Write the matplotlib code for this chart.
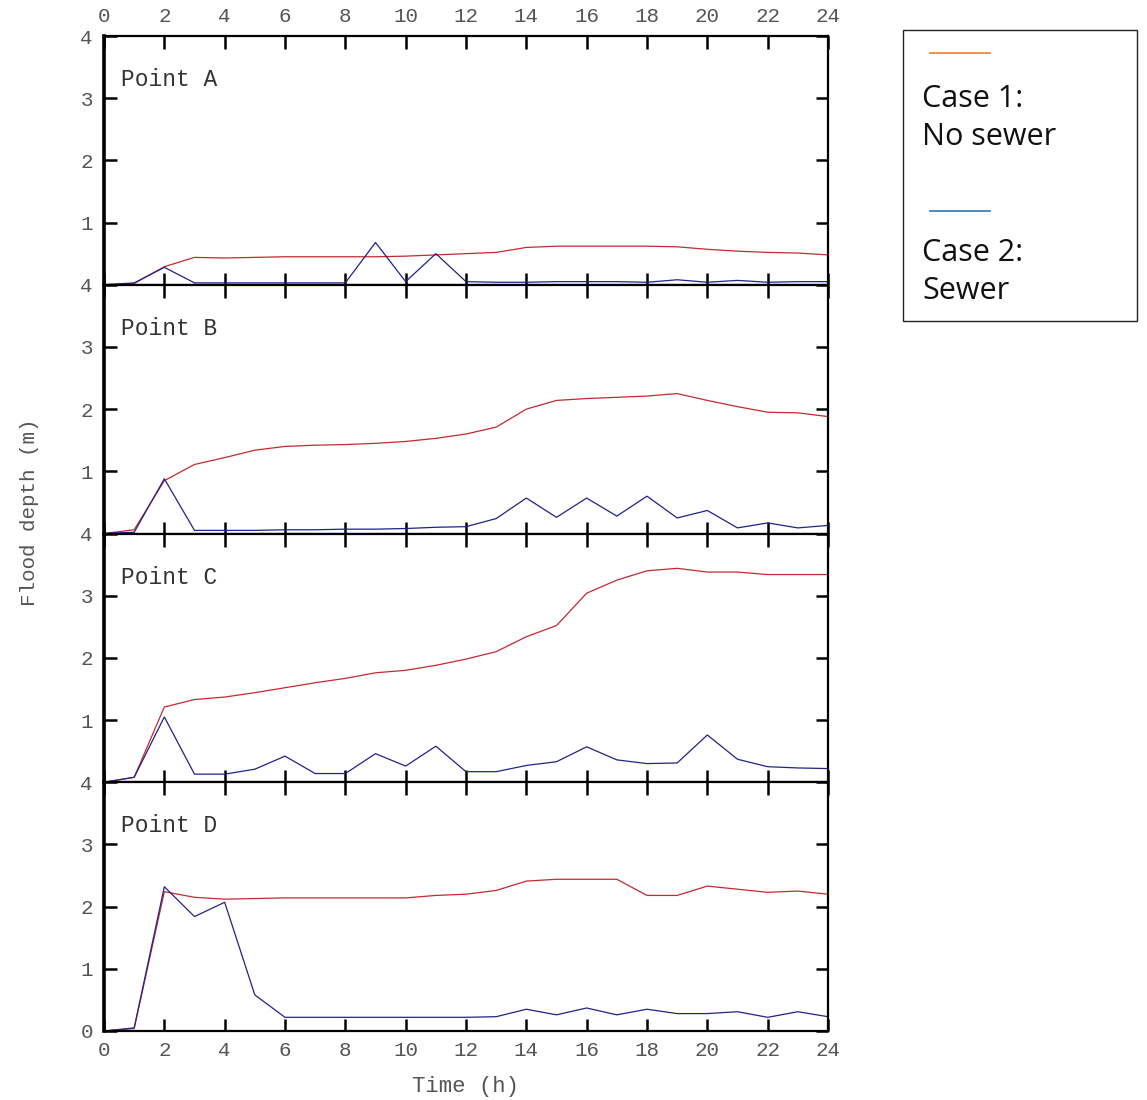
import matplotlib
matplotlib.use("Agg")
import matplotlib.pyplot as plt
from matplotlib.lines import Line2D
from matplotlib.patches import Rectangle

hours = list(range(25))
points = ["Point A", "Point B", "Point C", "Point D"]

case1_A = [0, 0.02, 0.29, 0.44, 0.43, 0.44, 0.45, 0.45, 0.45, 0.45, 0.46, 0.48, 0.50,
           0.52, 0.60, 0.62, 0.62, 0.62, 0.62, 0.61, 0.57, 0.54, 0.52, 0.51, 0.48]
case2_A = [0, 0.03, 0.28, 0.03, 0.03, 0.03, 0.03, 0.03, 0.03, 0.68, 0.05, 0.50, 0.05,
           0.04, 0.04, 0.05, 0.05, 0.05, 0.04, 0.08, 0.04, 0.07, 0.04, 0.05, 0.05]
case1_B = [0, 0.06, 0.85, 1.11, 1.22, 1.34, 1.40, 1.42, 1.43, 1.45, 1.48, 1.53, 1.60,
           1.71, 2.00, 2.14, 2.17, 2.19, 2.21, 2.25, 2.14, 2.04, 1.95, 1.94, 1.88]
case2_B = [0, 0.02, 0.88, 0.05, 0.05, 0.05, 0.06, 0.06, 0.07, 0.07, 0.08, 0.10, 0.11,
           0.24, 0.57, 0.26, 0.57, 0.28, 0.60, 0.25, 0.37, 0.09, 0.17, 0.09, 0.13]
case1_C = [0, 0.08, 1.21, 1.33, 1.37, 1.44, 1.52, 1.60, 1.67, 1.76, 1.80, 1.88, 1.98,
           2.10, 2.34, 2.52, 3.04, 3.25, 3.40, 3.44, 3.38, 3.38, 3.34, 3.34, 3.34]
case2_C = [0, 0.08, 1.05, 0.13, 0.13, 0.21, 0.42, 0.14, 0.14, 0.46, 0.26, 0.58, 0.17,
           0.17, 0.27, 0.33, 0.57, 0.36, 0.30, 0.31, 0.76, 0.37, 0.25, 0.23, 0.22]
case1_D = [0, 0.04, 2.24, 2.15, 2.12, 2.13, 2.14, 2.14, 2.14, 2.14, 2.14, 2.18, 2.20,
           2.26, 2.41, 2.44, 2.44, 2.44, 2.18, 2.18, 2.33, 2.28, 2.23, 2.25, 2.20]
case2_D = [0, 0.05, 2.32, 1.84, 2.07, 0.58, 0.22, 0.22, 0.22, 0.22, 0.22, 0.22, 0.22,
           0.23, 0.35, 0.26, 0.37, 0.26, 0.35, 0.28, 0.28, 0.31, 0.22, 0.31, 0.23]

case1 = [case1_A, case1_B, case1_C, case1_D]
case2 = [case2_A, case2_B, case2_C, case2_D]

x_ticks = list(range(0, 25, 2))
y_ticks = [0, 1, 2, 3, 4]
legend_labels = [["Case 1:", "No sewer"], ["Case 2:", "Sewer"]]

RED = "#c42a30"
BLUE = "#22228a"
TICKCOL = "#555555"
mono = "Liberation Mono"

W, H = 1147, 1100
fig = plt.figure(figsize=(W / 100, H / 100), dpi=100)

left, right = 104 / W, 828 / W
top, bottom = 1 - 36 / H, 1 - 1031 / H
ph = (top - bottom) / 4

for i in range(4):
    ax = fig.add_axes([left, top - (i + 1) * ph, right - left, ph])
    ax.plot(hours, case1[i], color=RED, lw=0.9)
    ax.plot(hours, case2[i], color=BLUE, lw=0.9)
    ax.set_xlim(0, 24)
    ax.set_ylim(0, 4)
    ax.set_xticks(x_ticks)
    ax.set_yticks(y_ticks)
    ylabels = [str(v) for v in y_ticks]
    if i < 3:
        ylabels[0] = ""
    ax.set_yticklabels(ylabels, fontfamily=mono, fontsize=15, color=TICKCOL)
    ax.set_xticklabels([str(v) for v in x_ticks], fontfamily=mono, fontsize=15, color=TICKCOL)
    ax.tick_params(axis="both", direction="in", length=9, width=1.8,
                   top=True, right=True, left=True, bottom=True,
                   labeltop=(i == 0), labelbottom=(i == 3))
    ax.tick_params(axis="x", pad=7)
    ax.tick_params(axis="y", pad=8)
    for s in ["top", "bottom", "right"]:
        ax.spines[s].set_linewidth(1.6)
    ax.spines["left"].set_linewidth(2.6)
    ax.text(0.55, 3.3, points[i], fontfamily=mono, fontsize=16.5, color="#333333",
            va="center", ha="left")
    if i == 3:
        ax.set_xlabel("Time (h)", fontfamily=mono, fontsize=16, color=TICKCOL, labelpad=12)

fig.text(30 / W, 1 - 512 / H, "Flood depth (m)", rotation=90, fontfamily=mono,
         fontsize=15, color=TICKCOL, ha="center", va="center")

# legend box
lx0, lx1 = 903 / W, 1137 / W
ly0, ly1 = 1 - 321 / H, 1 - 30 / H
fig.patches.append(Rectangle((lx0, ly0), lx1 - lx0, ly1 - ly0, transform=fig.transFigure,
                             fill=False, edgecolor="#222222", lw=1.0))
fig.lines.append(Line2D([930 / W, 990 / W], [1 - 53 / H, 1 - 53 / H], transform=fig.transFigure,
                        color="#f47a20", lw=1.2))
fig.lines.append(Line2D([930 / W, 990 / W], [1 - 211 / H, 1 - 211 / H], transform=fig.transFigure,
                        color="#2e75b6", lw=1.2))
lfont = ["Open Sans", "DejaVu Sans"]
line_y = [[99, 137], [253, 291]]
for labs, ys in zip(legend_labels, line_y):
    for lab, yy in zip(labs, ys):
        fig.text(922 / W, 1 - yy / H, lab, family=lfont, fontsize=22,
                 ha="left", va="center", color="#111111")

fig.savefig("out.png", dpi=100)
